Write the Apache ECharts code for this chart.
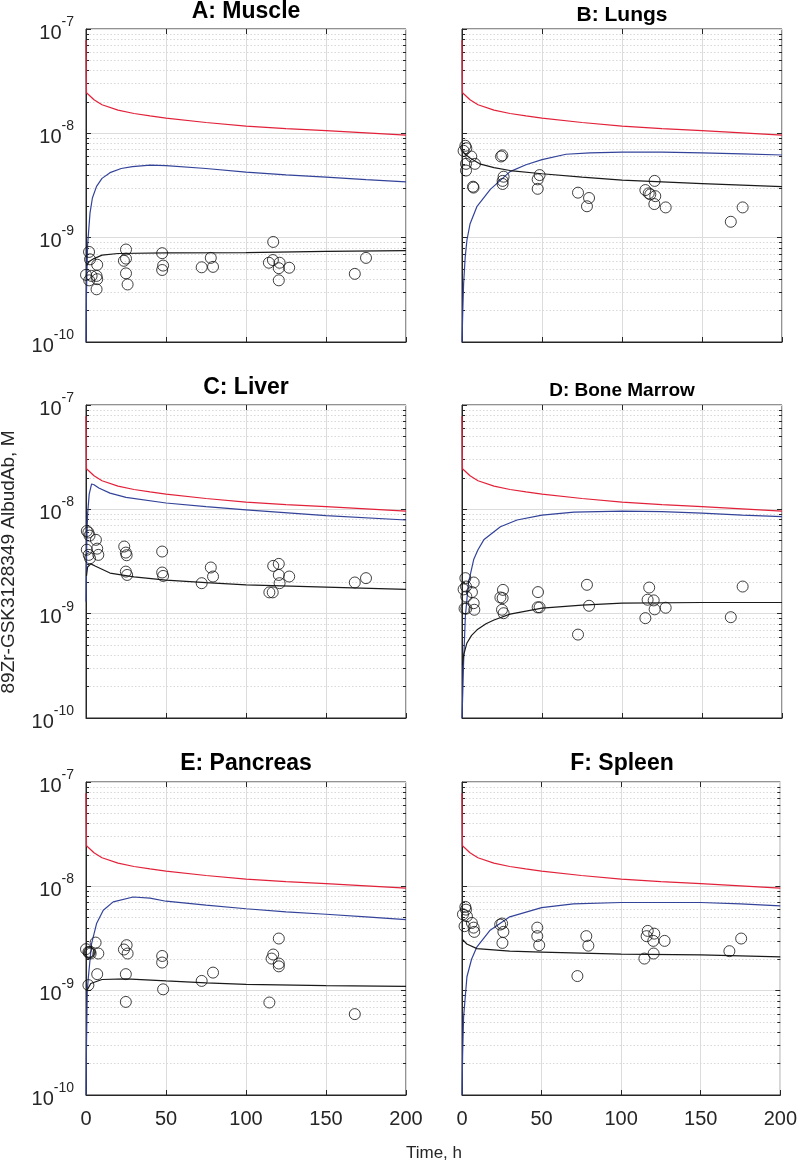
<!DOCTYPE html>
<html><head><meta charset="utf-8">
<script src="https://cdn.jsdelivr.net/npm/echarts@6/dist/echarts.min.js"></script>
<style>html,body{margin:0;padding:0;background:#fff}#c{width:800px;height:1163px}</style>
</head><body><div id="c"></div>
<script>
// ---------- data ----------
const panelTitles = ['A: Muscle', 'B: Lungs', 'C: Liver', 'D: Bone Marrow', 'E: Pancreas', 'F: Spleen'];
const xTicks = [0, 50, 100, 150, 200];
const yDecades = [-10, -9, -8, -7];
const xAxisTitle = 'Time, h';
const yAxisTitle = '89Zr-GSK3128349 AlbudAb, M';

// plasma (red), identical in every panel
const plasmaRed = [[0,7.8e-8],[0.3,2.45e-8],[1,2.38e-8],[2,2.32e-8],[5,2.1e-8],[10,1.88e-8],[20,1.67e-8],[30,1.55e-8],[40,1.47e-8],[50,1.40e-8],[75,1.27e-8],[100,1.17e-8],[125,1.11e-8],[150,1.06e-8],[175,1.01e-8],[200,9.6e-9]];

const muscleBlue = [[0,1e-10],[0.3,3e-10],[1,8.5e-10],[2.5,1.72e-9],[4,2.4e-9],[6.6,3.1e-9],[10,3.7e-9],[15,4.2e-9],[22,4.6e-9],[29,4.8e-9],[40,4.95e-9],[50,4.9e-9],[75,4.6e-9],[100,4.25e-9],[125,4.0e-9],[150,3.8e-9],[175,3.6e-9],[200,3.43e-9]];
const muscleBlack = [[0.3,5.4e-10],[2,5.9e-10],[5,6.3e-10],[10,6.8e-10],[20,7.05e-10],[50,7.15e-10],[100,7.2e-10],[150,7.4e-10],[200,7.5e-10]];
const muscleObs = [[1.9,7.3e-10],[2.5,6.2e-10],[0,4.4e-10],[2,3.9e-10],[3.5,4.3e-10],[7,5.5e-10],[6.6,4.3e-10],[7,4.0e-10],[6.6,3.2e-10],[25,7.7e-10],[23.7,6.0e-10],[25,6.3e-10],[25,4.55e-10],[26,3.56e-10],[47.6,7.1e-10],[48.2,5.4e-10],[47.6,4.9e-10],[72.3,5.2e-10],[78,6.4e-10],[79.4,5.25e-10],[117,9.1e-10],[114.3,5.75e-10],[116.8,6.1e-10],[121,5.75e-10],[120.5,5.1e-10],[120.5,3.9e-10],[127,5.15e-10],[168,4.5e-10],[175,6.4e-10]];

const lungsBlue = [[0,1e-10],[0.5,2e-10],[1,3.6e-10],[2,6.5e-10],[3.1,9.5e-10],[5,1.35e-9],[9.4,2.0e-9],[17.7,2.9e-9],[30,4.3e-9],[40,5.0e-9],[50,5.6e-9],[65,6.3e-9],[80,6.5e-9],[100,6.6e-9],[125,6.6e-9],[150,6.5e-9],[175,6.35e-9],[200,6.2e-9]];
const lungsBlack = [[0.3,6.8e-9],[2,6.3e-9],[5,5.8e-9],[11,5.1e-9],[20,4.7e-9],[30,4.4e-9],[50,4.1e-9],[75,3.8e-9],[100,3.56e-9],[150,3.3e-9],[200,3.08e-9]];
const lungsObs = [[2.1,7.6e-9],[2.7,7.2e-9],[1.0,6.8e-9],[5.8,6.0e-9],[2.5,5.1e-9],[2.5,4.4e-9],[8.1,5.1e-9],[6.9,3.08e-9],[7.2,3.02e-9],[24.4,6.0e-9],[25.2,6.15e-9],[26,3.84e-9],[25.4,3.5e-9],[25.4,3.27e-9],[48.5,3.98e-9],[47.3,3.62e-9],[47.3,2.94e-9],[72.5,2.7e-9],[79.4,2.4e-9],[78.1,2.0e-9],[120.4,3.5e-9],[114.6,2.86e-9],[116.7,2.66e-9],[120.8,2.5e-9],[117.7,2.6e-9],[120.2,2.1e-9],[127.3,1.95e-9],[168,1.42e-9],[175.4,1.95e-9]];

const liverBlue = [[0,1.3e-9],[0.5,5e-9],[1,9e-9],[2,1.4e-8],[3.5,1.75e-8],[5,1.72e-8],[8,1.6e-8],[15,1.43e-8],[25,1.3e-8],[50,1.15e-8],[75,1.06e-8],[100,9.9e-9],[150,8.7e-9],[200,7.9e-9]];
const liverBlack = [[0.3,2.3e-9],[1,2.8e-9],[3,3.0e-9],[6,2.85e-9],[15,2.45e-9],[30,2.25e-9],[50,2.1e-9],[75,1.98e-9],[100,1.89e-9],[150,1.8e-9],[200,1.71e-9]];
const liverObs = [[0.5,6.2e-9],[1.5,6.0e-9],[2.2,5.6e-9],[0.5,4.1e-9],[1.7,3.66e-9],[2.5,3.4e-9],[6.2,5.1e-9],[7,4.2e-9],[7.7,3.66e-9],[23.9,4.4e-9],[24.9,3.85e-9],[25.4,3.63e-9],[24.9,2.53e-9],[25.7,2.35e-9],[47.6,3.94e-9],[47.6,2.48e-9],[48.2,2.3e-9],[72.3,1.96e-9],[78,2.77e-9],[79.4,2.27e-9],[117,2.87e-9],[120.5,3.0e-9],[120.5,2.35e-9],[121,1.96e-9],[114.6,1.6e-9],[116.7,1.6e-9],[127,2.27e-9],[168,1.99e-9],[175,2.19e-9]];

const marrowBlue = [[0,1e-10],[0.5,1.8e-10],[1,3.4e-10],[2.1,9.4e-10],[4,1.96e-9],[7.3,3.3e-9],[10,4.1e-9],[13.6,5.1e-9],[24,6.8e-9],[34.4,7.9e-9],[50,8.8e-9],[70,9.4e-9],[100,9.6e-9],[125,9.5e-9],[150,9.2e-9],[175,8.8e-9],[200,8.5e-9]];
const marrowBlack = [[0.3,3.2e-10],[1,4.0e-10],[3,5.2e-10],[6,6.2e-10],[9.4,7.0e-10],[15,8.0e-10],[20,8.7e-10],[30,9.9e-10],[50,1.13e-9],[75,1.21e-9],[100,1.26e-9],[150,1.28e-9],[200,1.28e-9]];
const marrowObs = [[2.1,2.19e-9],[1,1.71e-9],[2.5,1.82e-9],[7.3,1.99e-9],[6.2,1.61e-9],[2.7,1.46e-9],[7.3,1.26e-9],[1.6,1.12e-9],[2.7,1.12e-9],[7.7,1.09e-9],[25.6,1.69e-9],[24,1.43e-9],[25.4,1.41e-9],[25,1.09e-9],[26,1.01e-9],[47.5,1.61e-9],[47.3,1.15e-9],[48.5,1.15e-9],[78.1,1.89e-9],[79.4,1.19e-9],[72.5,6.3e-10],[117,1.78e-9],[116,1.36e-9],[119.8,1.34e-9],[120.4,1.1e-9],[114.6,9.06e-10],[127.3,1.14e-9],[168,9.25e-10],[175.4,1.82e-9]];

const pancreasBlue = [[0,1e-10],[0.3,3e-10],[0.8,1.0e-9],[1.5,1.36e-9],[3.5,2.83e-9],[6.6,4.4e-9],[10.8,5.9e-9],[17,7.1e-9],[29.5,7.9e-9],[40,7.7e-9],[50,7.2e-9],[75,6.6e-9],[100,6.1e-9],[125,5.7e-9],[150,5.4e-9],[175,5.1e-9],[200,4.8e-9]];
const pancreasBlack = [[0.5,1.0e-9],[3,1.17e-9],[10,1.28e-9],[25,1.3e-9],[50,1.24e-9],[75,1.19e-9],[100,1.15e-9],[150,1.12e-9],[200,1.1e-9]];
const pancreasObs = [[0,2.5e-9],[1.5,2.35e-9],[2.5,2.35e-9],[2.9,2.27e-9],[1.9,2.3e-9],[1.5,1.13e-9],[6,2.89e-9],[7.7,2.27e-9],[7,1.44e-9],[25.4,2.73e-9],[23.7,2.48e-9],[26,2.27e-9],[24.9,1.44e-9],[24.9,7.8e-10],[47.6,2.15e-9],[47.6,1.86e-9],[48.2,1.03e-9],[72.3,1.24e-9],[79.4,1.49e-9],[120.5,3.16e-9],[117,2.22e-9],[116,2.03e-9],[120.5,1.82e-9],[120.5,1.71e-9],[114.6,7.7e-10],[168,5.96e-10]];

const spleenBlue = [[0,1e-10],[0.4,2.5e-10],[1,5.6e-10],[3.1,1.36e-9],[6,2.0e-9],[9.4,2.63e-9],[17.7,3.8e-9],[30,5.1e-9],[50,6.25e-9],[70,6.8e-9],[100,7.0e-9],[150,7.0e-9],[175,6.8e-9],[200,6.5e-9]];
const spleenBlack = [[0.3,3.1e-9],[3,2.8e-9],[9.4,2.53e-9],[30,2.39e-9],[50,2.34e-9],[100,2.24e-9],[150,2.2e-9],[200,2.11e-9]];
const spleenObs = [[2.1,6.35e-9],[2.5,5.98e-9],[0.6,5.4e-9],[3.1,5.17e-9],[1.6,4.15e-9],[6.2,4.46e-9],[7.3,4.02e-9],[7.7,3.66e-9],[24,4.3e-9],[25.2,4.4e-9],[26,3.66e-9],[25.4,2.87e-9],[47.3,4.02e-9],[47.3,3.33e-9],[48.5,2.73e-9],[72.5,1.38e-9],[78.1,3.33e-9],[79.4,2.7e-9],[116.7,3.74e-9],[116,3.33e-9],[120.8,3.52e-9],[120.2,3.0e-9],[127.3,3.0e-9],[120.4,2.27e-9],[114.6,2.03e-9],[168,2.39e-9],[175.4,3.16e-9]];

// ---------- build ----------
const tissues = [
  [muscleBlue, muscleBlack, muscleObs],
  [lungsBlue, lungsBlack, lungsObs],
  [liverBlue, liverBlack, liverObs],
  [marrowBlue, marrowBlack, marrowObs],
  [pancreasBlue, pancreasBlack, pancreasObs],
  [spleenBlue, spleenBlack, spleenObs]
];
const FONT = "'Liberation Sans', Arial, Helvetica, sans-serif";
const lefts = [86, 462];
const tops = [29, 405, 782];
const W = 320, H = 313;
const titleY = [11, 14, 387, 390, 763, 763];
const titleSize = [23, 21, 23, 19, 23, 23];
const axisCol = '#262626';

const xMin = xTicks[0], xMax = xTicks[xTicks.length - 1];
const yMin = Math.pow(10, yDecades[0]), yMax = Math.pow(10, yDecades[yDecades.length - 1]);
const minorVals = [];
for (let e = yDecades[0]; e < yDecades[yDecades.length - 1]; e++) {
  for (let k = 2; k <= 9; k++) minorVals.push(k * Math.pow(10, e));
}
// tick lengths expressed in axis units (px / px-per-unit)
const xTickMinor = 3 * (xMax - xMin) / W;
const xTickMajor = 5 * (xMax - xMin) / W;
const yTickMajorFactor = Math.pow(10, 5 * (yDecades.length - 1) / H);

const grids = [], xAxes = [], yAxes = [], series = [], graphics = [];
for (let i = 0; i < 6; i++) {
  const col = i % 2, row = Math.floor(i / 2);
  grids.push({left: lefts[col], top: tops[row], width: W, height: H, show: true,
    borderColor: axisCol, borderWidth: 1, backgroundColor: '#fff'});
  xAxes.push({gridIndex: i, type: 'value', min: xMin, max: xMax, interval: xTicks[1] - xTicks[0],
    axisLine: {show: true, lineStyle: {color: axisCol, width: 1}},
    axisTick: {show: true, inside: true, length: 5, lineStyle: {color: axisCol}},
    splitLine: {show: true, lineStyle: {color: '#dcdcdc', width: 1}},
    axisLabel: {show: row === 2, fontSize: 20, color: axisCol, margin: 14, fontFamily: FONT}
  });
  yAxes.push({gridIndex: i, type: 'log', logBase: 10, min: yMin, max: yMax,
    axisLine: {show: true, lineStyle: {color: axisCol, width: 1}},
    axisTick: {show: true, inside: true, length: 5, lineStyle: {color: axisCol}},
    splitLine: {show: true, lineStyle: {color: '#dcdcdc', width: 1}},
    axisLabel: {show: col === 0, margin: 12, color: axisCol,
      formatter: v => '{b|10}{s|' + Math.round(Math.log10(v)) + '}',
      rich: {b: {fontSize: 20, lineHeight: 28, verticalAlign: 'bottom', fontFamily: FONT, color: axisCol},
             s: {fontSize: 14, lineHeight: 14, verticalAlign: 'top', fontFamily: FONT, color: axisCol}}}
  });
  // minor dotted grid lines (log 2..9 positions)
  series.push({type: 'lines', coordinateSystem: 'cartesian2d', xAxisIndex: i, yAxisIndex: i, silent: true, z: 1,
    polyline: false, symbol: 'none',
    lineStyle: {color: '#d9d9d9', width: 1, type: [1.5, 2], opacity: 1},
    data: minorVals.map(v => ({coords: [[xMin, v], [xMax, v]]}))});
  // minor tick marks on left & right edges, and box ticks (top x, right y)
  const tickSegs = [];
  minorVals.forEach(v => {
    tickSegs.push({coords: [[xMin, v], [xMin + xTickMinor, v]]});
    tickSegs.push({coords: [[xMax, v], [xMax - xTickMinor, v]]});
  });
  yDecades.slice(1, -1).forEach(e => {
    const v = Math.pow(10, e);
    tickSegs.push({coords: [[xMax, v], [xMax - xTickMajor, v]]});
  });
  xTicks.slice(1, -1).forEach(x => {
    tickSegs.push({coords: [[x, yMax], [x, yMax / yTickMajorFactor]]});
  });
  series.push({type: 'lines', coordinateSystem: 'cartesian2d', xAxisIndex: i, yAxisIndex: i, silent: true, z: 2,
    polyline: false, symbol: 'none', lineStyle: {color: axisCol, width: 1, opacity: 1}, data: tickSegs});

  const [blue, black, obs] = tissues[i];
  const lineBase = {type: 'line', xAxisIndex: i, yAxisIndex: i, showSymbol: false, symbol: 'none', z: 3, silent: true};
  series.push(Object.assign({}, lineBase, {data: plasmaRed, lineStyle: {color: '#e2223a', width: 1.2}}));
  series.push(Object.assign({}, lineBase, {data: blue, lineStyle: {color: '#33439a', width: 1.2}}));
  series.push(Object.assign({}, lineBase, {data: black, lineStyle: {color: '#1a1a1a', width: 1.2}}));
  series.push({type: 'scatter', xAxisIndex: i, yAxisIndex: i, data: obs, symbol: 'circle', symbolSize: 11, z: 4,
    itemStyle: {color: 'rgba(0,0,0,0)', borderColor: '#111', borderWidth: 1}});
  graphics.push({type: 'text', x: lefts[col] + W / 2, y: titleY[i] + 1,
    style: {text: panelTitles[i], font: 'bold ' + titleSize[i] + 'px ' + FONT, fill: '#000',
      textAlign: 'center', textVerticalAlign: 'middle', align: 'center', verticalAlign: 'middle'}});
}
graphics.push({type: 'text', x: 434, y: 1153,
  style: {text: xAxisTitle, font: '17px ' + FONT, fill: axisCol, textAlign: 'center', textVerticalAlign: 'middle', align: 'center', verticalAlign: 'middle'}});
graphics.push({type: 'text', x: 9, y: 562, rotation: Math.PI / 2,
  style: {text: yAxisTitle, font: '19px ' + FONT, fill: axisCol, textAlign: 'center', textVerticalAlign: 'middle', align: 'center', verticalAlign: 'middle'}});

const chart = echarts.init(document.getElementById('c'), null, {renderer: 'canvas'});
chart.setOption({animation: false, backgroundColor: '#fff', grid: grids, xAxis: xAxes, yAxis: yAxes, series: series, graphic: graphics});
</script></body></html>
